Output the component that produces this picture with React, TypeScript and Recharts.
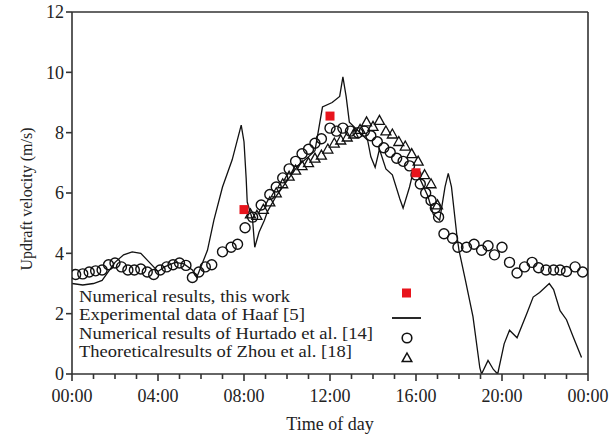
import {
  ComposedChart,
  Line,
  Scatter,
  XAxis,
  YAxis,
  ReferenceLine,
  Legend,
} from "recharts";

const FONT = '"Liberation Serif", "Times New Roman", serif';
const INK = "#222";

// hour ticks on the time axis, labels every 4 h
const hourTicks = [0, 1, 2, 3, 4, 5, 6, 7, 8, 9, 10, 11, 12, 13, 14, 15, 16, 17, 18, 19, 20, 21, 22, 23, 24];
const timeLabels = ["00:00", "04:00", "08:00", "12:00", "16:00", "20:00", "00:00"];
const velocityTicks = [0, 2, 4, 6, 8, 10, 12];

// Numerical results, this work
const workHours = [8, 12, 16];
const workVelocity = [5.45, 8.55, 6.67];

// Experimental data of Haaf [5]
const haafHours = [
  0, 0.5, 1.0, 1.4, 1.7, 2.0, 2.4, 2.8, 3.2, 3.6, 4.0, 4.3, 4.8, 5.2, 5.6, 5.8, 6.05, 6.3,
  6.6, 7.0, 7.45, 7.87, 8.0, 8.1, 8.15, 8.4, 8.5, 8.7, 8.95, 9.1, 9.5, 10.0, 10.5, 11.0,
  11.3, 11.65, 12.1, 12.45, 12.6, 12.75, 12.9, 13.4, 13.75, 13.9, 14.1, 14.3, 14.6, 14.9,
  15.25, 15.4, 15.7, 15.85, 16.1, 16.55, 16.8, 17.1, 17.35, 17.5, 17.65, 17.9, 18.0, 18.3,
  18.65, 18.97, 19.05, 19.35, 19.6, 19.8, 20.1, 20.35, 20.7, 21.15, 21.45, 21.75, 22.2,
  22.4, 22.7, 23.0, 23.3, 23.7,
];
const haafVelocity = [
  3.0, 2.95, 3.0, 3.1, 3.4, 3.7, 3.95, 4.05, 4.0, 3.7, 3.4, 3.55, 3.7, 3.65, 3.45, 3.2, 3.65, 4.1,
  5.1, 6.2, 7.1, 8.25, 7.7, 6.5, 5.7, 5.1, 4.2, 4.7, 5.1, 5.4, 5.9, 6.4, 6.9, 7.2,
  7.4, 8.85, 9.0, 9.2, 9.85, 9.2, 8.35, 8.0, 7.75, 7.2, 6.85, 7.45, 6.8, 6.6,
  5.8, 5.5, 6.2, 6.65, 6.6, 5.9, 5.3, 5.1, 6.2, 6.65, 6.2, 4.6, 4.1, 3.1,
  1.9, 0.2, 0, 0.45, 0.15, 0, 1.0, 1.45, 1.2, 2.0, 2.55, 2.7, 3.0,
  2.8, 2.1, 1.8, 1.25, 0.55,
];

// Numerical results of Hurtado et al. [14]
const hurtadoHours = [
  0.17, 0.5, 0.8, 1.1, 1.4, 1.7, 2.0, 2.3, 2.6, 2.9, 3.2, 3.5, 3.8, 4.1, 4.4, 4.7, 5.0, 5.3,
  5.6, 5.9, 6.2, 6.5, 7.0, 7.4, 7.7, 8.05, 8.4, 8.8, 9.2, 9.5, 9.8, 10.1, 10.4, 10.7, 11.0,
  11.3, 11.6, 12.0, 12.3, 12.6, 12.95, 13.3, 13.6, 13.9, 14.2, 14.5, 14.8, 15.1, 15.4, 15.7,
  16.0, 16.2, 16.45, 16.7, 16.9, 17.05, 17.3, 17.7, 17.95, 18.35, 18.7, 19.05, 19.35, 19.65,
  20.0, 20.35, 20.7, 21.05, 21.4, 21.7, 22.05, 22.4, 22.7, 23.0, 23.4, 23.75,
];
const hurtadoVelocity = [
  3.3, 3.32, 3.38, 3.42, 3.45, 3.62, 3.68, 3.55, 3.45, 3.45, 3.48, 3.38, 3.3, 3.45, 3.55, 3.62, 3.68, 3.6,
  3.2, 3.38, 3.55, 3.62, 4.05, 4.2, 4.3, 4.85, 5.2, 5.6, 5.95, 6.2, 6.5, 6.8, 7.05, 7.3, 7.45,
  7.65, 7.8, 8.15, 8.05, 8.15, 8.05, 8.0, 8.05, 7.9, 7.7, 7.5, 7.35, 7.15, 7.05, 6.9,
  6.6, 6.3, 6.0, 5.75, 5.5, 5.2, 4.65, 4.5, 4.2, 4.2, 4.3, 4.1, 4.25, 3.95,
  4.2, 3.7, 3.35, 3.55, 3.7, 3.52, 3.45, 3.45, 3.45, 3.4, 3.55, 3.38,
];

// Theoretical results of Zhou et al. [18]
const zhouHours = [
  8.3, 8.6, 8.9, 9.2, 9.5, 9.8, 10.1, 10.4, 10.7, 11.0, 11.3, 11.6, 11.9, 12.2, 12.5,
  12.8, 13.1, 13.4, 13.7, 14.0, 14.3, 14.6, 14.9, 15.2, 15.5, 15.8, 16.1, 16.4, 16.7, 17.0,
];
const zhouVelocity = [
  5.3, 5.25, 5.45, 5.7, 6.0, 6.3, 6.55, 6.75, 6.9, 7.0, 7.15, 7.25, 7.45, 7.65, 7.75,
  7.85, 7.95, 8.1, 8.35, 8.2, 8.4, 8.05, 7.95, 7.7, 7.55, 7.3, 7.05, 6.6, 6.3, 5.6,
];

const pairs = (hours: number[], vel: number[]) => hours.map((h, i) => ({ h, v: vel[i] }));

const workData = pairs(workHours, workVelocity);
const haafData = pairs(haafHours, haafVelocity);
const hurtadoData = pairs(hurtadoHours, hurtadoVelocity);
const zhouData = pairs(zhouHours, zhouVelocity);

const Square = (p: any) => <rect x={p.cx - 4.5} y={p.cy - 4.5} width={9} height={9} fill="#e8141c" />;
const Ring = (p: any) => <circle cx={p.cx} cy={p.cy} r={5} fill="none" stroke="#111" strokeWidth={1.4} />;
const Tri = (p: any) => (
  <path
    d={`M${p.cx},${p.cy - 5.2} L${p.cx + 5},${p.cy + 3.8} L${p.cx - 5},${p.cy + 3.8} Z`}
    fill="none"
    stroke="#111"
    strokeWidth={1.3}
  />
);

const TimeTick = (p: any) => {
  const { x, y, payload } = p;
  const major = payload.value % 4 === 0;
  return (
    <g>
      <line x1={x} y1={y} x2={x} y2={y + (major ? 7 : 5)} stroke="#333" strokeWidth={1.6} />
      {major && (
        <text x={x} y={y + 28} textAnchor="middle" fontSize={18} fontFamily={FONT} fill={INK}>
          {timeLabels[payload.value / 4]}
        </text>
      )}
    </g>
  );
};

const YTitle = (p: any) => {
  const vb = p.viewBox || { y: 12, height: 362 };
  const cx = 26;
  const cy = vb.y + vb.height / 2 + 6;
  return (
    <text
      x={cx}
      y={cy}
      transform={`rotate(-90, ${cx}, ${cy})`}
      textAnchor="middle"
      dominantBaseline="central"
      fontSize={16}
      fontFamily={FONT}
      fill={INK}
    >
      Updraft velocity (m/s)
    </text>
  );
};

const XTitle = (p: any) => {
  const vb = p.viewBox || { x: 72, y: 374, width: 516 };
  return (
    <text x={vb.x + vb.width / 2} y={vb.y + 56} textAnchor="middle" fontSize={18} fontFamily={FONT} fill={INK}>
      Time of day
    </text>
  );
};

const legendRows = [
  "Numerical results, this work",
  "Experimental data of Haaf [5]",
  "Numerical results of Hurtado et al. [14]",
  "Theoreticalresults of Zhou et al. [18]",
];
const legendWidths = [211, 226, 294, 273];

const LegendBox = () => (
  <svg width={615} height={436} style={{ position: "absolute", left: 0, top: 0 }}>
    {legendRows.map((t, i) => (
      <text
        key={t}
        x={79}
        y={302 + i * 18.3}
        fontSize={16.2}
        textLength={legendWidths[i]}
        lengthAdjust="spacingAndGlyphs"
        fontFamily={FONT}
        fill={INK}
      >
        {t}
      </text>
    ))}
    <rect x={402} y={288.5} width={9} height={9} fill="#e8141c" />
    <line x1={392} y1={318} x2={421} y2={318} stroke="#111" strokeWidth={1.8} />
    <circle cx={407} cy={338} r={4.8} fill="none" stroke="#111" strokeWidth={1.6} />
    <path d="M407,353 L411.8,361.6 L402.2,361.6 Z" fill="none" stroke="#111" strokeWidth={1.5} />
  </svg>
);

export default function App() {
  return (
    <div style={{ position: "absolute", left: 0, top: 0, background: "#fff" }}>
      <ComposedChart width={615} height={436} margin={{ top: 12, right: 27, bottom: 22, left: 28 }}>
        <XAxis
          type="number"
          dataKey="h"
          domain={[0, 24]}
          ticks={hourTicks}
          interval={0}
          allowDataOverflow
          tickLine={false}
          tickSize={0}
          tickMargin={0}
          tick={<TimeTick />}
          axisLine={{ stroke: "#333", strokeWidth: 1.6 }}
          height={40}
          label={<XTitle />}
        />
        <YAxis
          type="number"
          dataKey="v"
          domain={[0, 12]}
          ticks={velocityTicks}
          interval={0}
          allowDataOverflow
          width={44}
          tickSize={6}
          tickMargin={2}
          tickLine={{ stroke: "#333", strokeWidth: 1.6 }}
          axisLine={{ stroke: "#333", strokeWidth: 1.6 }}
          tick={{ fill: INK, fontSize: 18, fontFamily: FONT }}
          label={<YTitle />}
        />
        <ReferenceLine y={12} stroke="#333" strokeWidth={1.6} />
        <ReferenceLine x={24} stroke="#333" strokeWidth={1.6} />
        <Line
          data={haafData}
          dataKey="v"
          type="linear"
          stroke="#111"
          strokeWidth={1.3}
          dot={false}
          isAnimationActive={false}
        />
        <Scatter data={hurtadoData} dataKey="v" shape={<Ring />} isAnimationActive={false} />
        <Scatter data={zhouData} dataKey="v" shape={<Tri />} isAnimationActive={false} />
        <Scatter data={workData} dataKey="v" shape={<Square />} isAnimationActive={false} />
        <Legend
          layout="vertical"
          align="center"
          verticalAlign="middle"
          wrapperStyle={{ left: 0, top: 0, width: 615, height: 436, pointerEvents: "none" }}
          content={<LegendBox />}
        />
      </ComposedChart>
    </div>
  );
}
